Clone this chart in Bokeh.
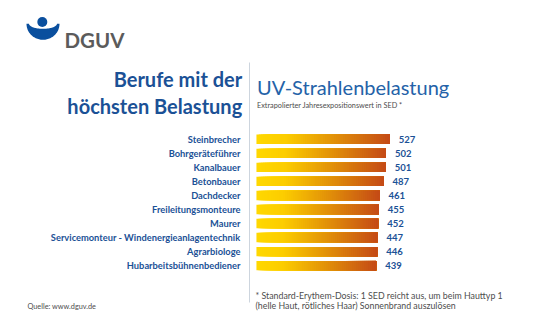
import numpy as np
from bokeh.plotting import figure
from bokeh.models import Range1d
from bokeh.core.properties import value
from bokeh.embed import file_html
from bokeh.resources import INLINE

# ---- data ----
categories = ["Steinbrecher", "Bohrgeräteführer", "Kanalbauer", "Betonbauer", "Dachdecker",
              "Freileitungsmonteure", "Maurer", "Servicemonteur - Windenergieanlagentechnik",
              "Agrarbiologe", "Hubarbeitsbühnenbediener"]
values = [527, 502, 501, 487, 461, 455, 452, 447, 446, 439]
value_labels = [str(v) for v in values]

title_left = ["Berufe mit der", "höchsten Belastung"]
title_right = "UV-Strahlenbelastung"
subtitle = "Extrapolierter Jahresexpositionswert in SED *"
footnote = ["* Standard-Erythem-Dosis: 1 SED reicht aus, um beim Hauttyp 1",
            "(helle Haut, rötliches Haar) Sonnenbrand auszulösen"]
source = "Quelle: www.dguv.de"
logo_text = "DGUV"

# ---- style ----
W, H = 538, 331
BASE = -336          # value where the bars visually start
FONT = value("Lato")
BLUE = "#1b5196"
BLUE2 = "#2462a8"
GREY = "#4d4d4d"

p = figure(width=W, height=H, output_backend="svg", toolbar_location=None,
           x_range=Range1d(-1993, 1490), y_range=Range1d(13.69, -9.886),
           x_axis_location=None, y_axis_location=None, min_border=0,
           outline_line_color=None, background_fill_color="white",
           border_fill_color="white")
p.grid.visible = False
p.extra_x_ranges = {"px": Range1d(0, W)}
p.extra_y_ranges = {"py": Range1d(H, 0)}

# gradient bars (stacked slices so no seams)
stops = [(0.0, (255, 216, 0)), (0.22, (252, 205, 0)), (0.55, (228, 150, 8)), (1.0, (196, 74, 22))]
def grad(f):
    for (a, ca), (b, cb) in zip(stops[:-1], stops[1:]):
        if f <= b:
            t = (f - a) / (b - a)
            c = [int(round(ca[k] + (cb[k] - ca[k]) * t)) for k in range(3)]
            return "#%02x%02x%02x" % tuple(c)
    return "#%02x%02x%02x" % stops[-1][1]

N = 60
ys, lefts, rights, cols = [], [], [], []
for i, v in enumerate(values):
    edges = np.linspace(BASE, v, N + 1)
    for k in range(N):
        ys.append(i)
        lefts.append(edges[k])
        rights.append(v)
        cols.append(grad((k + 0.5) / N))
p.hbar(y=ys, left=lefts, right=rights, height=0.67, fill_color=cols, line_color=None)

idx = list(range(len(categories)))
p.text(x=[BASE] * len(categories), y=idx, text=categories, x_offset=-16,
       text_font=FONT, text_font_size="9.3px", text_font_style="bold", text_color=BLUE,
       text_align="right", text_baseline="middle")
p.text(x=values, y=idx, text=value_labels, x_offset=9,
       text_font=FONT, text_font_size="9.5px", text_font_style="bold", text_color=BLUE,
       text_align="left", text_baseline="middle")

# pixel-space decorations
kw = dict(x_range_name="px", y_range_name="py")
p.segment(x0=[249], y0=[62], x1=[249], y1=[302], line_color="#cdd5de", line_width=1, **kw)

# logo
t = np.linspace(0, np.pi, 60)
cx, cy = 42.5, 23.3
ox = cx + 16.5 * np.cos(t); oy = cy + 16.0 * np.sin(t)
ix = cx + 14.0 * np.cos(t[::-1]); iy = cy + 5.0 * np.sin(t[::-1])
p.patch(x=np.concatenate([ox, ix]), y=np.concatenate([oy, iy]), fill_color="#0a4f9e",
        line_color=None, **kw)
p.circle(x=[41.8], y=[21.5], radius=5, fill_color="#0a4f9e", line_color=None, **kw)
p.text(x=[64], y=[39], text=[logo_text], text_font=FONT, text_font_size="20.5px",
       text_font_style="bold", text_color="#5b5b5b", text_baseline="alphabetic", **kw)

# titles
p.text(x=[241.7, 241.7], y=[78.5, 105.5], text=title_left, text_font=FONT,
       text_font_size="20px", text_font_style="bold", text_color=BLUE,
       text_align="right", text_baseline="alphabetic", **kw)
p.text(x=[256.5], y=[86.7], text=[title_right], text_font=FONT, text_font_size="20px",
       text_color=BLUE2, text_align="left", text_baseline="alphabetic", **kw)
p.text(x=[256.5], y=[105], text=[subtitle], text_font=FONT, text_font_size="7.3px",
       text_color=GREY, text_align="left", text_baseline="alphabetic", **kw)

# footnotes
p.text(x=[255, 255], y=[295, 305], text=footnote, text_font=FONT, text_font_size="8.8px",
       text_color=GREY, text_align="left", text_baseline="alphabetic", **kw)
p.text(x=[27], y=[305.5], text=[source], text_font=FONT, text_font_size="7.3px",
       text_color=GREY, text_align="left", text_baseline="alphabetic", **kw)

open("out.html", "w").write(file_html(p, INLINE))
